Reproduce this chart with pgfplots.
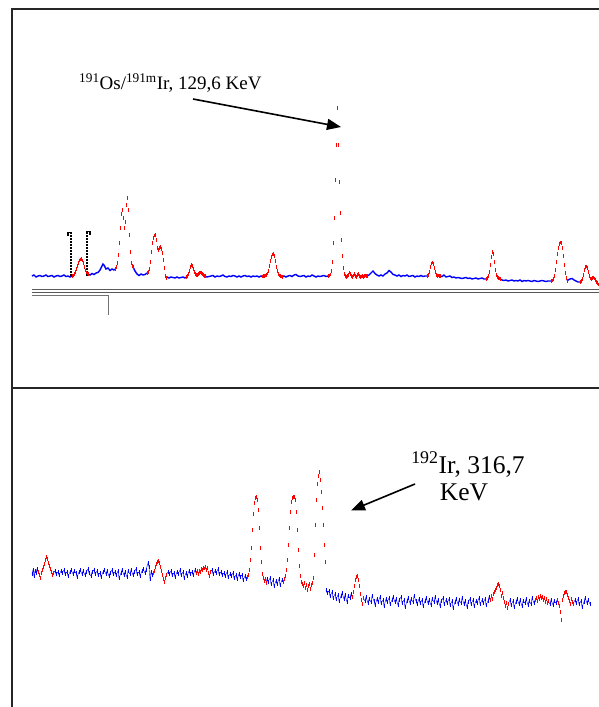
\documentclass[border=0pt]{standalone}
\usepackage{fontspec}
\setmainfont{Liberation Serif}
\usepackage{pgfplots}
\pgfplotsset{compat=1.18}
\usetikzlibrary{arrows.meta}
\pgfplotsset{
  bl/.style={blue, line width=1.4pt, mark=none},
  bb/.style={blue, line width=0.4pt, mark=|, mark size=1.8pt, mark options={line width=0.5pt}},
  rd/.style={red, only marks, mark=|, mark size=1.9pt, mark options={line width=0.85pt}},
}
\begin{document}
\begin{tikzpicture}
\useasboundingbox (0,0) rectangle (599pt,707pt);
\begin{axis}[at={(0,0)}, anchor=south west, width=599pt, height=707pt, scale only axis,
  xmin=0, xmax=599, ymin=0, ymax=707, y dir=reverse, hide axis, clip=true]
% frames
\draw[line width=1.6pt, black!85] (axis cs:12,707) -- (axis cs:12,9) -- (axis cs:605,9);
\draw[line width=1.6pt, black!85] (axis cs:12,388) -- (axis cs:605,388);
\draw[line width=1pt, black!65] (axis cs:32,289) -- (axis cs:605,289);
\draw[line width=1pt, black!65] (axis cs:32,292) -- (axis cs:605,292);
\draw[line width=0.9pt, black!55] (axis cs:32,295.5) -- (axis cs:108.5,295.5) -- (axis cs:108.5,315);
% markers
\draw[line width=1.7pt, dash pattern=on 1.6pt off 1.4pt] (axis cs:71.3,276) -- (axis cs:71.3,233);
\draw[line width=1.5pt] (axis cs:72.1,232.5) -- (axis cs:68,232.5) -- (axis cs:68,235.5);
\draw[line width=1.7pt, dash pattern=on 1.6pt off 1.4pt] (axis cs:86.7,276) -- (axis cs:86.7,232);
\draw[line width=1.5pt] (axis cs:85.9,231.5) -- (axis cs:90,231.5) -- (axis cs:90,234.5);
% ===== top spectrum =====
\addplot[bl] coordinates {(32,276)(34,275)(36,277)(38,276)(40,275.5)(42,276.5)(44,276)(46,275)(48,276.5)(50,276)(52,275.5)(54,277)(56,276)(58,275.5)(60,276.5)(62,276)(64,275)(66,276.5)(68,276)(70,277)(72,276)};
\addplot[bl] coordinates {(88,274)(90,275)(92,273.5)(94,274.5)(96,273)(98,272.5)(100,270)(102,266)(103,264)(104,265)(106,269)(108,268)(110,270.5)(112,269)(114,270)(115,269)};
\addplot[bl] coordinates {(133,267)(135,271)(137,274)(139,275.5)(141,274)(143,275)(145,274.5)(147,273)};
\addplot[bl] coordinates {(166,278)(167,277)(169,278)(171,277)(173,277.5)(175,278)(177,277)(179,278)(181,277.5)(183,277)(185,278)(186,277)};
\addplot[bl] coordinates {(205,276)(207,277)(209,276.5)(211,276)(213,275.5)(215,277)(217,276)(219,276.5)(221,276)(223,275)(225,276.5)(227,277)(229,276)(231,276.5)(233,275.5)(235,276)(237,277)(239,276)(241,277)(243,276)(245,275.5)(247,276.5)(249,276)(251,277)(253,276)(255,276.5)(257,276)(259,277)(261,276)(262,276.5)};
\addplot[bl] coordinates {(282,277)(284,276)(286,277)(288,276)(290,275.5)(292,276.5)(294,275)(296,274.5)(298,276)(300,276.5)(302,276)(304,275.5)(306,277)(308,276)(310,276.5)(312,275)(314,276)(316,277)(318,276)(320,276.5)(322,276)(324,275.5)(326,276.5)(328,276)};
\addplot[bl] coordinates {(367,276)(369,275)(371,273)(373,271)(375,273.5)(377,275)(379,276)(381,275)(383,276)(385,274)(387,273)(389,270.5)(391,272)(393,274.5)(395,275)(397,276)(399,275)(401,276.5)(403,275.5)(405,276)(407,275)(409,276.5)(411,276)(413,275.5)(415,277)(417,276)(419,276.5)(421,275.5)(423,276.5)(425,276)(427,276)};
\addplot[bl] coordinates {(440,276)(442,276.5)(444,275)(446,277)(448,276.5)(450,276)(452,277.5)(454,277)(456,278)(458,277.5)(460,278)(462,278.5)(464,278)(466,277.5)(468,278.5)(470,278)(472,279)(474,278.5)(476,278)(478,279)(480,278.5)(482,278)(484,279)(486,279)};
\addplot[bl] coordinates {(500,279)(502,280)(504,280.5)(506,280)(508,281)(510,280.5)(512,280)(514,281)(516,280.5)(518,281)(520,280)(522,281.5)(524,280.5)(526,281)(528,280.5)(530,281)(532,281.5)(534,280.5)(536,281)(538,281.5)(540,281)(542,280.5)(544,281)(546,281.5)(548,281)(551,281)};
\addplot[bl] coordinates {(567,281)(568,280)(570,279)(572,278.5)(574,280)(576,281)(578,282)(580,282)};
% red peaks (top)
\addplot[rd] coordinates {(72,276)(73,275.5)(74,274)(75,272)(76,269)(77,266)(78,263)(79,260.5)(80,259.5)(81,259)(82,260.5)(83,263)(84,267)(85,270.5)(86,272.5)(87,273.5)(88,274)};
\addplot[rd] coordinates {(115,269)(116,267)(117,263)(118,255)(119,243)(120,228)(121,214)(122,210)(123,218)(124,228)(125,222)(126,205)(127,198)(128,210)(129,235)(130,252)(131,263)(132,266)(133,267)};
\addplot[rd] coordinates {(147,273)(148,272)(149,269)(150,262)(151,252)(152,243)(153,238)(154,235.5)(155,235)(156,240)(157,248)(158,250)(159,248)(160,247)(161,249)(162,253)(163,260)(164,268)(165,276)(166,278)};
\addplot[rd] coordinates {(186,277)(187,276)(188,274)(189,271)(190,267)(191,265)(192,266)(193,269)(194,272)(195,274)(196,275)(197,275)(198,274)(199,273)(200,272.5)(201,273)(202,274)(203,275)(204,276)(205,276)};
\addplot[rd] coordinates {(262,276.5)(263,276)(264,276)(265,275.5)(266,275)(267,273.5)(268,271)(269,266)(270,261)(271,257)(272,254.5)(273,254)(274,256)(275,261)(276,267)(277,271)(278,274)(279,275.5)(280,276)(281,276.5)(282,277)};
\addplot[rd] coordinates {(328,276)(329,275.5)(330,274.5)(331,271)(332,262)(333,243)(334,218)(335,180)(336,145)(337,108)(338,145)(339,182)(340,213)(341,240)(342,256)(343,268)(344,274)(345,276)(346,277)(347,276)(348,275)(349,272.5)(350,274)(351,276)(352,277)(353,275.5)(354,274)(355,276)(356,277)(357,275)(358,274)(359,276)(360,277)(361,276.5)(362,276)(363,277)(364,276)(365,275.5)(366,276)(367,276)};
\addplot[rd] coordinates {(427,276)(428,275)(429,272)(430,267)(431,263.5)(432,262.5)(433,264)(434,268)(435,272)(436,275)(437,276)(438,275.5)(439,276)(440,276)};
\addplot[rd] coordinates {(486,279)(487,278)(488,276)(489,272)(490,265)(491,257)(492,252)(493,254)(494,262)(495,270)(496,275)(497,277)(498,278)(499,278.5)(500,279)};
\addplot[rd] coordinates {(551,281)(552,280.5)(553,279)(554,276)(555,270)(556,262)(557,254)(558,248)(559,244)(560,242.5)(561,243)(562,248)(563,256)(564,265)(565,273)(566,278)(567,281)};
\addplot[rd] coordinates {(580,282)(581,281)(582,279)(583,275)(584,270)(585,267)(586,266.5)(587,268)(588,272)(589,276)(590,278.5)(591,279)(592,278)(593,277.5)(594,278.5)(595,280)(596,282)(597,283)(598,284.5)(599,285)};
% ===== bottom spectrum =====
\addplot[bb] coordinates {(32,574)(33,570)(34,576)(35,571)(36,573)(37,569)(38,572)};
\addplot[bb] coordinates {(53,573)(55,571)(56,574)(58,572)(59,575)(61,571)(62,573)(64,570)(65,574)(67,572)(68,576)(70,572)(71,570)(73,574)(74,571)(76,573)(77,577)(79,572)(80,570)(82,574)(83,571)(85,575)(86,572)(88,569)(89,573)(91,576)(92,572)(94,570)(95,574)(97,571)(98,575)(100,573)(101,577)(103,572)(104,570)(106,574)(107,571)(109,576)(110,573)(112,570)(113,574)(115,572)(116,575)(118,571)(119,578)(121,573)(122,570)(124,575)(125,572)(127,577)(128,571)(130,574)(131,570)(133,575)(134,572)(136,569)(137,574)(139,572)(140,576)(142,571)(143,569)(145,573)(146,570)(148,563)(149,567)(150,579)(151,572)(152,575)(153,573)};
\addplot[bb] coordinates {(166,575)(168,572)(169,574)(171,571)(172,575)(174,573)(175,577)(177,572)(178,574)(180,570)(181,575)(183,572)(184,578)(186,573)(187,576)(189,571)(190,574)(192,572)(193,575)(195,570)(196,573)};
\addplot[bb] coordinates {(210,572)(212,570)(213,574)(215,571)(216,573)(218,569)(219,574)(221,572)(222,575)(224,573)(225,576)(227,572)(228,577)(230,574)(231,576)(233,573)(234,578)(236,575)(237,579)(239,574)(240,577)(242,575)(243,580)(245,576)(246,579)(247,577)};
\addplot[bb] coordinates {(266,583)(267,579)(268,582)(270,578)(271,584)(273,580)(274,586)(276,581)(277,584)(279,579)(280,585)(282,580)(283,582)};
\addplot[bb] coordinates {(326,590)(327,593)(329,591)(330,596)(332,592)(333,598)(335,594)(336,599)(338,595)(339,601)(341,596)(342,593)(344,599)(345,595)(347,602)(348,596)(350,598)(351,594)(352,597)};
\addplot[bb] coordinates {(363,598)(365,601)(366,597)(368,603)(369,599)(371,602)(372,596)(374,601)(375,605)(377,599)(378,602)(380,597)(381,603)(383,600)(384,606)(386,599)(387,602)(389,598)(390,604)(392,600)(393,597)(395,602)(396,599)(398,605)(399,600)(401,597)(402,603)(404,600)(405,607)(407,601)(408,598)(410,603)(411,599)(413,602)(414,596)(416,601)(417,604)(419,599)(420,603)(422,600)(423,606)(425,601)(426,598)(428,603)(429,600)(431,605)(432,599)(434,602)(435,597)(437,603)(438,600)(440,606)(441,601)(443,598)(444,604)(446,600)(447,603)(449,599)(450,605)(452,601)(453,608)(455,602)(456,599)(458,604)(459,600)(461,603)(462,598)(464,604)(465,601)(467,607)(468,602)(470,599)(471,604)(473,600)(474,606)(476,601)(477,603)(479,598)(480,604)(482,600)(483,603)(485,599)(486,605)(488,601)(489,597)(490,600)};
\addplot[bb] coordinates {(508,604)(510,600)(511,605)(513,601)(514,607)(516,602)(517,599)(519,604)(520,600)(522,606)(523,601)(525,603)(526,599)(528,605)(529,601)(531,604)(532,598)(534,603)(535,600)};
\addplot[bb] coordinates {(548,601)(550,604)(551,600)(553,605)(554,601)(556,603)(557,600)};
\addplot[bb] coordinates {(573,604)(575,600)(576,603)(578,599)(579,604)(581,601)(582,607)(584,602)(585,598)(587,603)(588,600)(590,604)};
% red peaks (bottom)
\addplot[rd] coordinates {(38,572)(39,575)(40,578)(41,573)(42,570)(43,567)(44,564)(45,560)(46,557)(47,559)(48,563)(49,566)(50,569)(51,572)(52,575)(53,573)};
\addplot[rd] coordinates {(153,573)(154,571)(155,567)(156,564)(157,562)(158,561)(159,563)(160,567)(161,571)(162,575)(163,579)(164,582)(165,578)(166,575)};
\addplot[rd] coordinates {(196,573)(197,571)(198,574)(199,571)(200,572)(201,569)(202,570)(203,568)(204,568.5)(205,567)(206,570)(207,568)(208,573)(209,576)(210,572)};
\addplot[rd] coordinates {(247,577)(248,575)(249,570)(250,560)(251,548)(252,530)(253,514)(254,503)(255,498)(256,497)(257,500)(258,510)(259,528)(260,548)(261,562)(262,574)(263,578)(264,581)(265,579)(266,583)};
\addplot[rd] coordinates {(283,582)(284,579)(285,576)(286,570)(287,560)(288,545)(289,528)(290,512)(291,502)(292,498)(293,497)(294,497)(295,500)(296,512)(297,530)(298,550)(299,566)(300,576)(301,582)(302,584)(303,586)(304,583)(305,588)(306,585)(307,590)(308,586)(309,584)(310,589)(311,585)(312,583)(313,578)};
\addplot[rd] coordinates {(314,555)(315,525)(316,500)(317,484)(318,476)(319,472)(320,480)(321,492)(322,508)(323,525)(324,545)(325,562)};
\addplot[rd] coordinates {(352,597)(353,592)(354,586)(355,580)(356,577)(357,576)(358,580)(359,586)(360,594)(361,600)(362,604)(363,598)};
\addplot[rd] coordinates {(490,600)(491,596)(492,599)(493,594)(494,592)(495,590)(496,588)(497,585)(498,584)(499,586)(500,590)(501,596)(502,593)(503,598)(504,602)(505,606)(506,603)(507,608)(508,604)};
\addplot[rd] coordinates {(535,600)(536,598)(537,601)(538,597)(539,599)(540,596)(541,598)(542,597)(543,600)(544,598)(545,602)(546,599)(547,603)(548,601)};
\addplot[rd] coordinates {(557,600)(558,603)(559,606)(560,612)(561,620)(562,600)(563,596)(564,593)(565,592)(566,592)(567,595)(568,598)(569,601)(570,604)(571,599)(572,602)(573,604)};
% labels and arrows
\node[anchor=base west, font=\fontsize{19}{22}\selectfont, inner sep=0pt] at (axis cs:79,89) {\textsuperscript{191}Os/\textsuperscript{191m}Ir, 129,6 KeV};
\draw[line width=1.6pt, -{Triangle[length=14pt,width=11pt]}] (axis cs:193,99) -- (axis cs:341,127);
\node[anchor=base, font=\fontsize{25.5}{28}\selectfont, inner sep=0pt] at (axis cs:468,473) {\textsuperscript{192}Ir, 316,7};
\node[anchor=base, font=\fontsize{25.5}{28}\selectfont, inner sep=0pt] at (axis cs:464,500.5) {KeV};
\draw[line width=1.6pt, -{Triangle[length=14pt,width=11pt]}] (axis cs:415,484) -- (axis cs:351,510.5);
\end{axis}
\end{tikzpicture}
\end{document}
